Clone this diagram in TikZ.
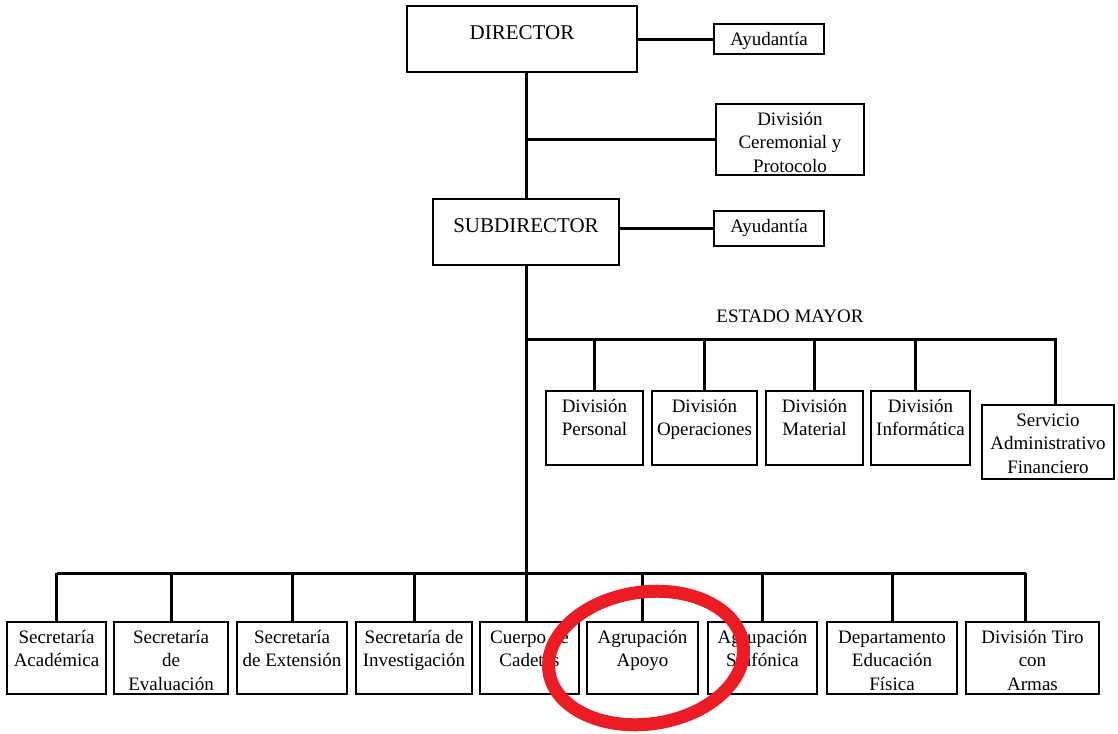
\documentclass[tikz,border=0pt]{standalone}
\usepackage{fontspec}
\setmainfont{Liberation Serif}
\definecolor{ringred}{RGB}{236,28,36}
% unit box: name, left, top, right, bottom, text (text hangs from the top edge)
\newcommand\unitbox[6]{%
  \node[unit, minimum width={(#4-#2)*0.75pt}, minimum height={(#5-#3)*0.75pt}]
    (#1) at ({(#2+#4)/2},{(#3+#5)/2}) {};
  \node[lbl] (#1-txt) at (#1.north) {\rule{0pt}{15.75pt}#6};}
\begin{document}
\begin{tikzpicture}[x=0.75pt,y=-0.75pt,
  conn/.style={line width=2.25pt},
  unit/.style={draw, line width=1.1pt, inner sep=0pt, outer sep=0pt},
  lbl/.style={anchor=north, align=center, inner sep=0pt,
    font=\fontsize{14.25}{17.6}\selectfont},
  head/.style={anchor=north, align=center, inner sep=0pt,
    font=\fontsize{15.75}{19}\selectfont},
  ring/.style={draw=ringred, line width=9.75pt}]
\useasboundingbox[fill=white] (0,0) rectangle (1118,733);

% command
\unitbox{dir}{407}{6}{637}{72}{}
\node[head] (dir-name) at (dir.north) {\rule{0pt}{24.75pt}DIRECTOR};
\unitbox{ay1}{714}{24}{824}{54}{Ayudantía}
\unitbox{cer}{716}{104}{864}{175}{División\\Ceremonial y\\Protocolo}
\unitbox{sub}{433}{199}{619}{265}{}
\node[head] (sub-name) at (sub.north) {\rule{0pt}{24.75pt}SUBDIRECTOR};
\unitbox{ay2}{714}{211}{824}{246}{Ayudantía}

% general staff
\node[lbl, anchor=base] (emt) at (790,322) {ESTADO MAYOR};
\unitbox{dp}{546}{391}{643}{465}{División\\Personal}
\unitbox{dop}{652}{391}{757}{465}{División\\Operaciones}
\unitbox{dm}{766}{391}{863}{465}{División\\Material}
\unitbox{di}{871}{391}{970}{465}{División\\Informática}
\unitbox{saf}{982}{405}{1114}{479}{Servicio\\Administrativo\\Financiero}

% units
\unitbox{b1}{7}{622}{106}{694}{Secretaría\\Académica}
\unitbox{b2}{114}{622}{228}{694}{Secretaría\\de\\Evaluación}
\unitbox{b3}{237}{622}{347}{694}{Secretaría\\de Extensión}
\unitbox{b4}{356}{622}{472}{694}{Secretaría de\\Investigación}
\unitbox{b5}{480}{622}{579}{694}{Cuerpo de\\Cadetes}
\unitbox{b6}{587}{622}{698}{694}{Agrupación\\Apoyo}
\unitbox{b7}{708}{622}{817}{694}{Agrupación\\Sinfónica}
\unitbox{b8}{827}{622}{957}{694}{Departamento\\Educación\\Física}
\unitbox{b9}{966}{622}{1099}{694}{División Tiro\\con\\Armas}

% connectors
\coordinate (em) at (526,339);
\coordinate (bb) at (526,573);
\coordinate (saf-top) at ([xshift=5.25pt]saf.north);
\coordinate (di-top) at ([xshift=-4pt]di.north);
\coordinate (b5-top) at (bb |- b5.north);
\coordinate (b9-top) at ([xshift=-5.25pt]b9.north);
\draw[conn] (sub.north |- dir.south) -- (sub.north);
\draw[conn] (dir.east) -- (ay1.west);
\draw[conn] (cer.west -| sub.north) -- (cer.west);
\draw[conn] (ay2.west -| sub.east) -- (ay2.west);
\draw[conn] (sub.south) -- (bb);
\draw[conn] (em) -- (em -| saf-top) -- (saf-top);
\foreach \n in {dp.north,dop.north,dm.north,di-top}
  \draw[conn] (\n |- em) -- (\n);
\draw[conn] (b1.north |- bb) -- (b9-top |- bb);
\foreach \n in {b1.north,b2.north,b3.north,b4.north,b5-top,b6.north,b7.north,b8.north,b9-top}
  \draw[conn] (\n |- bb) -- (\n);

% highlight ring
\draw[ring, rotate around={8:(646,658)}] (646,658) ellipse [x radius=98, y radius=66];
\end{tikzpicture}
\end{document}
